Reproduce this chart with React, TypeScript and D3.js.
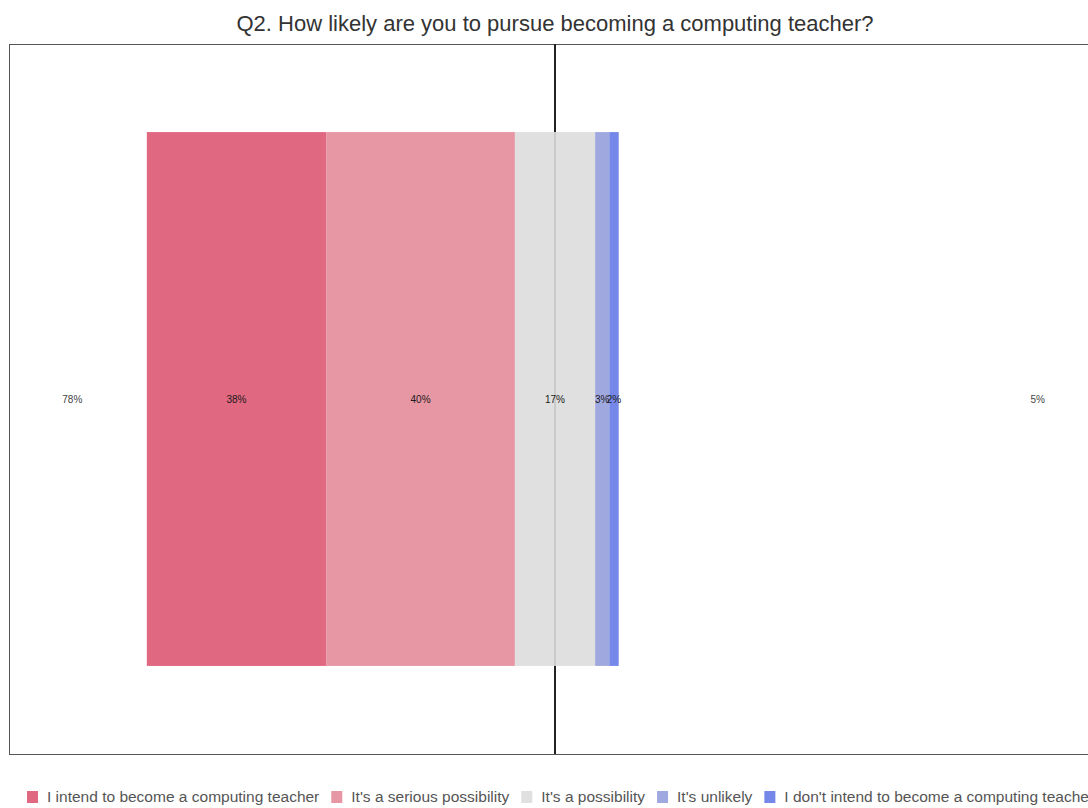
import React from "react";
import * as d3 from "d3";

const categories = ["Q2"];
const seriesNames = [
  "I intend to become a computing teacher",
  "It's a serious possibility",
  "It's a possibility",
  "It's unlikely",
  "I don't intend to become a computing teacher",
];
const seriesValues = [38, 40, 17, 3, 2];
const seriesColors = ["#e06880", "#e796a3", "#e0e0e0", "#a0a8e0", "#7587e8"];
const negativeTotal = "78%";
const positiveTotal = "5%";
const title = "Q2. How likely are you to pursue becoming a computing teacher?";

const W = 1088;
const H = 808;
const plot = { left: 9, top: 44, right: 1099, bottom: 754 };
const FONT = "'Liberation Sans', Arial, Helvetica, sans-serif";

function measure(text: string, size: number) {
  const c = document.createElement("canvas").getContext("2d")!;
  c.font = `${size}px 'Liberation Sans', Arial, sans-serif`;
  return c.measureText(text).width;
}

export default function App() {
  const x = d3.scaleLinear().domain([-115.5, 115.5]).range([plot.left + 1, plot.right + 1]);
  const y = d3
    .scaleBand<string>()
    .domain(categories)
    .range([plot.top, plot.bottom])
    .paddingInner(0)
    .paddingOuter(0.165);

  const neutralIdx = 2;
  const segs: { name: string; v: number; x0: number; x1: number; color: string }[] = [];
  let start = -(seriesValues[0] + seriesValues[1] + seriesValues[neutralIdx] / 2);
  seriesValues.forEach((v, i) => {
    segs.push({ name: seriesNames[i], v, x0: start, x1: start + v, color: seriesColors[i] });
    start += v;
  });

  const cat = categories[0];
  const by = y(cat)!;
  const bh = y.bandwidth();
  const cy = by + bh / 2;

  const legSize = 15.5;
  let lx = 27;
  const legendItems = seriesNames.map((n, i) => {
    const item = { n, c: seriesColors[i], x: lx };
    lx += 11 + 9 + measure(n, legSize) + 12;
    return item;
  });

  return (
    <svg width={W} height={H} style={{ position: "absolute", left: 0, top: 0, background: "#fff" }}>
      <text x={x(0)} y={31} textAnchor="middle" fontFamily={FONT} fontSize={22} fill="#333">
        {title}
      </text>
      <rect
        x={plot.left + 0.5}
        y={plot.top + 0.5}
        width={plot.right - plot.left}
        height={plot.bottom - plot.top}
        fill="#fff"
        stroke="#555"
        strokeWidth={1}
      />
      <line x1={x(0)} x2={x(0)} y1={plot.top} y2={plot.bottom} stroke="#222" strokeWidth={2} />
      {segs.map((s) => (
        <rect
          key={s.name}
          x={x(s.x0)}
          y={by}
          width={x(s.x1) - x(s.x0)}
          height={bh}
          fill={s.color}
        />
      ))}
      <line x1={x(0)} x2={x(0)} y1={by} y2={by + bh} stroke="#c4c4c4" strokeWidth={1.5} />
      {segs.map((s) => (
        <text
          key={"l" + s.name}
          x={x((s.x0 + s.x1) / 2)}
          y={cy + 4}
          textAnchor="middle"
          fontFamily={FONT}
          fontSize={10}
          fill="#1a1a1a"
        >
          {s.v}%
        </text>
      ))}
      <text x={x(-102.3)} y={cy + 4} textAnchor="middle" fontFamily={FONT} fontSize={10} fill="#444">
        {negativeTotal}
      </text>
      <text x={x(102.3)} y={cy + 4} textAnchor="middle" fontFamily={FONT} fontSize={10} fill="#444">
        {positiveTotal}
      </text>
      {legendItems.map((it) => (
        <g key={it.n}>
          <rect x={it.x} y={791} width={11} height={12} fill={it.c} />
          <text x={it.x + 20} y={802} fontFamily={FONT} fontSize={legSize} fill="#555">
            {it.n}
          </text>
        </g>
      ))}
    </svg>
  );
}
